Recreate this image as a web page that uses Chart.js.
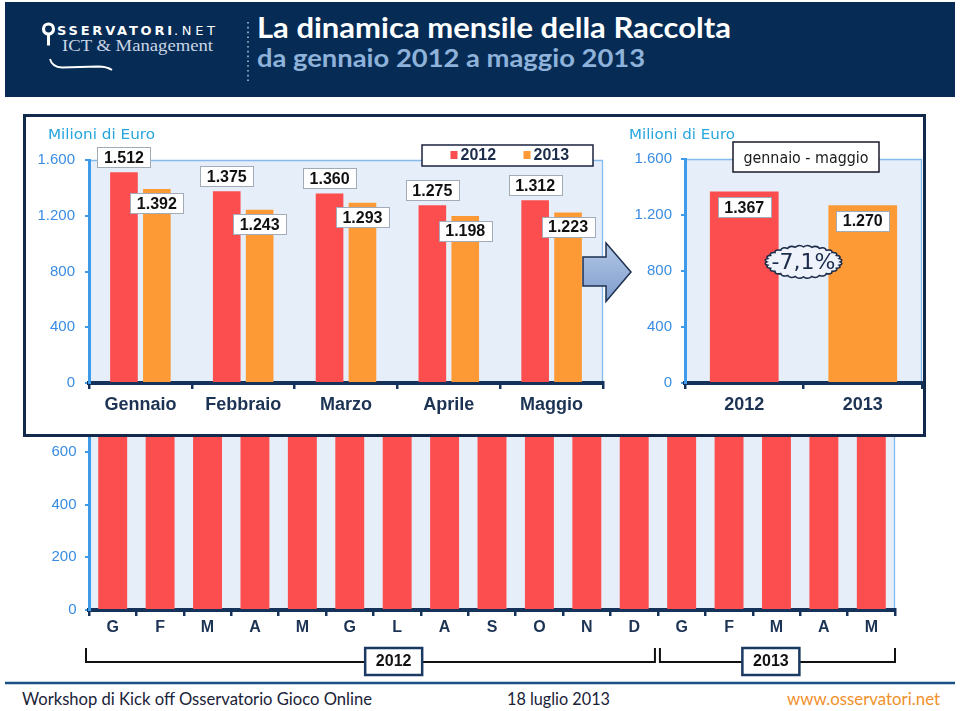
<!DOCTYPE html>
<html><head><meta charset="utf-8">
<script src="https://cdn.jsdelivr.net/npm/chart.js@4.4.1/dist/chart.umd.min.js"></script>
<style>
html,body{margin:0;padding:0;background:#fff;}
#page{position:relative;width:960px;height:711px;overflow:hidden;background:#fff;}
#page canvas,#page svg{position:absolute;left:0;top:0;width:960px;height:711px;}
#popup{position:absolute;left:23px;top:114px;width:897px;height:317px;border:3px solid #13294b;background:#fff;}
</style></head><body><div id="page">
<svg id="deco" width="960" height="711">
  <rect x="5" y="2" width="950" height="95" fill="#062c55"/>
  <circle cx="48.5" cy="29" r="5" fill="none" stroke="#fff" stroke-width="3.2"/>
  <rect x="47" y="33.5" width="3" height="12" fill="#fff"/>
  <text x="57" y="35" font-family="DejaVu Sans" font-weight="bold" font-size="13" fill="#fff" textLength="115" lengthAdjust="spacing">SSERVATORI</text>
  <text x="174" y="35" font-family="DejaVu Sans" font-size="13" fill="#fff" textLength="41" lengthAdjust="spacing">.NET</text>
  <text x="62" y="51" font-family="Liberation Serif" font-size="17" fill="#c9d5e5" textLength="151" lengthAdjust="spacingAndGlyphs">ICT &amp; Management</text>
  <path d="M50 59 Q52 67 62 67.5 L98 66.5 Q107 66.5 112 70" stroke="#fff" stroke-width="1.8" fill="none"/>
  <line x1="248" y1="22" x2="248" y2="81" stroke="#a9bbd2" stroke-width="1.6" stroke-dasharray="1.6 3.2"/>
  <text x="257" y="37.5" font-family="Lato" font-weight="bold" font-size="28" fill="#fff" textLength="474" lengthAdjust="spacingAndGlyphs">La dinamica mensile della Raccolta</text>
  <text x="257" y="67" font-family="Lato" font-weight="bold" font-size="25" fill="#8fb2da" textLength="388" lengthAdjust="spacingAndGlyphs">da gennaio 2012 a maggio 2013</text>
  <line x1="5" y1="683" x2="955" y2="683" stroke="#1b4d87" stroke-width="2.5"/>
  <text x="22" y="705" font-family="Lato" font-size="17" fill="#1a2238" textLength="350" lengthAdjust="spacingAndGlyphs">Workshop di Kick off Osservatorio Gioco Online</text>
  <text x="507" y="705" font-family="Lato" font-size="17" fill="#1a2238" textLength="103" lengthAdjust="spacingAndGlyphs">18 luglio 2013</text>
  <text x="787" y="705" font-family="Lato" font-size="17" fill="#f0902a" textLength="153" lengthAdjust="spacingAndGlyphs">www.osservatori.net</text>
</svg>
<canvas id="cMonthly" width="960" height="711"></canvas>
<div id="popup"></div>
<canvas id="cMonths5" width="960" height="711"></canvas>
<canvas id="cTotal" width="960" height="711"></canvas>
<svg id="overlay" width="960" height="711">
  <defs><linearGradient id="ag" x1="0" y1="0" x2="0" y2="1">
    <stop offset="0" stop-color="#b4c8e6"/><stop offset="1" stop-color="#7d9ccc"/></linearGradient></defs>
  <polygon points="583,257 606,257 606,243 631,272 606,301.5 606,286 583,286" fill="url(#ag)" stroke="#1c2f4f" stroke-width="1.5"/>
  <text x="48" y="139" font-family="DejaVu Sans" font-size="13.5" fill="#27a6de" textLength="107" lengthAdjust="spacingAndGlyphs">Milioni di Euro</text>
  <text x="629" y="139" font-family="DejaVu Sans" font-size="13.5" fill="#27a6de" textLength="106" lengthAdjust="spacingAndGlyphs">Milioni di Euro</text>
  <rect x="733" y="142" width="146" height="30" fill="#fff" stroke="#1a1a2a" stroke-width="1.5"/>
  <text x="806" y="163" text-anchor="middle" font-family="DejaVu Sans" font-size="15" fill="#1a1a1a" textLength="125" lengthAdjust="spacingAndGlyphs">gennaio - maggio</text>
</svg>
</div>
<script>
// ---- data ----
const months5 = ['Gennaio','Febbraio','Marzo','Aprile','Maggio'];
const raccolta2012 = [1512,1375,1360,1275,1312];
const raccolta2013 = [1392,1243,1293,1198,1223];
const periodLabels = ['2012','2013'];
const periodTotals = [1367,1270];
const monthLetters = ['G','F','M','A','M','G','L','A','S','O','N','D','G','F','M','A','M'];
// Jun-Dec 2012 hidden behind the popup in the reference: estimated
const monthlyValues = [1512,1375,1360,1275,1312,1180,1105,1070,1150,1230,1205,1320,1392,1243,1293,1198,1223];
const yearGroups = ['2012','2013'];
const yearGroupSizes = [12,5];

// ---- style ----
const RED = '#fd4e4f', ORANGE = '#fe9a36', PLOT = '#e5eef9', EDGE = '#86b9ec';
const AXISBLUE = '#3d9be9', TICKBLUE = '#3a8ce2', NAVY = '#15325a', LABNAVY = '#1c3354';
const SANS = 'Liberation Sans, Arial, sans-serif';
const fmt = v => String(v).replace(/\B(?=(\d{3})+(?!\d))/g, '.');

function plotBgPlugin(showTop){
  return {id:'plotBg', beforeDraw(chart){
    const {ctx, chartArea:a} = chart;
    ctx.save(); ctx.fillStyle = PLOT; ctx.fillRect(a.left, a.top, a.width, a.height);
    ctx.strokeStyle = EDGE; ctx.lineWidth = 1.3; ctx.beginPath();
    if (showTop){ ctx.moveTo(a.left, a.top + 0.5); ctx.lineTo(a.right - 0.5, a.top + 0.5); }
    else ctx.moveTo(a.right - 0.5, a.top);
    ctx.lineTo(a.right - 0.5, a.bottom); ctx.stroke(); ctx.restore();
  }};
}
function labelBox(ctx, text, cx, cy){
  ctx.font = 'bold 16px ' + SANS;
  const w = Math.round(ctx.measureText(text).width + 13), h = 20;
  const x0 = Math.round(cx - w/2), y0 = Math.round(cy - h/2);
  ctx.fillStyle = '#fff'; ctx.fillRect(x0, y0, w, h);
  ctx.strokeStyle = '#a3abb8'; ctx.lineWidth = 1; ctx.strokeRect(x0 + 0.5, y0 + 0.5, w, h);
  ctx.fillStyle = '#111'; ctx.textAlign = 'center'; ctx.textBaseline = 'middle';
  ctx.fillText(text, cx, cy + 1);
}
function yScale(max, step, width, pad, size){
  return {min:0, max:max, afterFit:s=>{s.width = width;},
    ticks:{stepSize:step, callback:v=>fmt(v), color:TICKBLUE, padding:pad, font:{family:SANS, size:size}},
    grid:{drawOnChartArea:false, drawTicks:true, tickLength:4, color:AXISBLUE, lineWidth:2},
    border:{color:AXISBLUE, width:3}};
}
function xScale(size, pad){
  return {offset:true, afterFit:s=>{s.height = 40;},
    ticks:{color:LABNAVY, padding:pad, font:{family:SANS, size:size, weight:'bold'}},
    grid:{offset:true, drawOnChartArea:false, drawTicks:true, tickLength:6, color:NAVY, lineWidth:2.5},
    border:{color:NAVY, width:4}};
}
const base = {responsive:false, animation:false, events:[],
  plugins:{legend:{display:false}, tooltip:{enabled:false}}};

// ---- bottom monthly chart ----
new Chart(document.getElementById('cMonthly'), {
  type:'bar',
  data:{labels:monthLetters, datasets:[{label:'Raccolta', data:monthlyValues, backgroundColor:RED,
    categoryPercentage:1, barPercentage:0.61}]},
  options:Object.assign({}, base, {
    layout:{padding:{left:0, top:188, right:65, bottom:61}},
    scales:{x:xScale(16, 2), y:yScale(1600, 200, 89, 8.5, 15)}
  }),
  plugins:[plotBgPlugin(true), {id:'years', afterDraw(chart){
    const {ctx, chartArea:a} = chart; const x = chart.scales.x;
    const cw = a.width / monthLetters.length;
    let start = 0; const boxFrac = [0.378, 0.846];
    ctx.save();
    yearGroups.forEach((yr, i) => {
      const l = a.left + start*cw + (i===0 ? -3 : 2);
      const r = a.left + (start + yearGroupSizes[i])*cw + (i===0 ? -3 : 0);
      ctx.strokeStyle = '#111'; ctx.lineWidth = 2; ctx.beginPath();
      ctx.moveTo(l, 648); ctx.lineTo(l, 662); ctx.lineTo(r, 662); ctx.lineTo(r, 648); ctx.stroke();
      const cx = x.getPixelForDecimal(boxFrac[i]);
      ctx.fillStyle = '#fff'; ctx.fillRect(cx - 28.5, 648, 57, 27);
      ctx.strokeStyle = '#1b3a63'; ctx.lineWidth = 2.5; ctx.strokeRect(cx - 28.5, 648, 57, 27);
      ctx.fillStyle = '#111'; ctx.font = 'bold 16px ' + SANS; ctx.textAlign = 'center'; ctx.textBaseline = 'middle';
      ctx.fillText(yr, cx, 662);
      start += yearGroupSizes[i];
    });
    ctx.restore();
  }}]
});

// ---- top-left: months comparison ----
new Chart(document.getElementById('cMonths5'), {
  type:'bar',
  data:{labels:months5, datasets:[
    {label:'2012', data:raccolta2012, backgroundColor:RED, categoryPercentage:0.64, barPercentage:0.84},
    {label:'2013', data:raccolta2013, backgroundColor:ORANGE, categoryPercentage:0.64, barPercentage:0.84}]},
  options:Object.assign({}, base, {
    layout:{padding:{left:0, top:160, right:357, bottom:288}},
    scales:{x:xScale(18, 5), y:yScale(1600, 400, 89, 10, 15)}
  }),
  plugins:[plotBgPlugin(true), {id:'labels', afterDraw(chart){
    const ctx = chart.ctx; ctx.save();
    chart.data.datasets.forEach((ds, di) => {
      chart.getDatasetMeta(di).data.forEach((bar, j) => {
        labelBox(ctx, fmt(ds.data[j]), bar.x, di === 0 ? bar.y - 15 : bar.y + 14.5);
      });
    });
    // legend
    ctx.fillStyle = '#fff'; ctx.fillRect(422, 145, 171, 21);
    ctx.strokeStyle = '#1a2340'; ctx.lineWidth = 1.5; ctx.strokeRect(422, 145, 171, 21);
    const lx = [450.5, 523.5];
    chart.data.datasets.forEach((ds, di) => {
      ctx.fillStyle = ds.backgroundColor; ctx.fillRect(lx[di], 151, 7, 8);
      ctx.fillStyle = '#1d2c4a'; ctx.font = 'bold 16px ' + SANS; ctx.textAlign = 'left'; ctx.textBaseline = 'middle';
      ctx.fillText(ds.label, lx[di] + 10, 156);
    });
    ctx.restore();
  }}]
});

// ---- top-right: period totals ----
new Chart(document.getElementById('cTotal'), {
  type:'bar',
  data:{labels:periodLabels, datasets:[{label:'gennaio - maggio', data:periodTotals,
    backgroundColor:[RED, ORANGE], categoryPercentage:0.58, barPercentage:1}]},
  options:Object.assign({}, base, {
    layout:{padding:{left:600, top:159, right:38, bottom:288}},
    scales:{x:xScale(18, 5), y:yScale(1600, 400, 85, 9, 15)}
  }),
  plugins:[plotBgPlugin(true), {id:'labels', afterDraw(chart){
    const ctx = chart.ctx; const bars = chart.getDatasetMeta(0).data; const d = chart.data.datasets[0].data;
    ctx.save();
    bars.forEach((bar, j) => labelBox(ctx, fmt(d[j]), bar.x, bar.y + 15.5));
    const cx = (bars[0].x + bars[1].x) / 2, cy = chart.scales.y.getPixelForValue(865);
    const rx = 36.5, ry = 15, n = 28;
    ctx.beginPath();
    for (let i = 0; i < n; i++){
      const t0 = i/n*2*Math.PI, t1 = (i+1)/n*2*Math.PI, tm = (t0+t1)/2;
      const p0 = [cx + rx*Math.cos(t0), cy + ry*Math.sin(t0)];
      const p1 = [cx + rx*Math.cos(t1), cy + ry*Math.sin(t1)];
      const c = [cx + rx*1.12*Math.cos(tm), cy + ry*1.2*Math.sin(tm)];
      if (i === 0) ctx.moveTo(p0[0], p0[1]);
      ctx.quadraticCurveTo(c[0], c[1], p1[0], p1[1]);
    }
    ctx.closePath(); ctx.fillStyle = '#eef3fb'; ctx.fill();
    ctx.strokeStyle = '#1b2a48'; ctx.lineWidth = 1.6; ctx.stroke();
    const pct = ((d[1]/d[0] - 1)*100).toFixed(1).replace('.', ',') + '%';
    ctx.fillStyle = '#1b2b4b'; ctx.font = '22px DejaVu Sans, sans-serif'; ctx.textAlign = 'center'; ctx.textBaseline = 'middle';
    ctx.fillText(pct, cx, cy + 1);
    ctx.restore();
  }}]
});
</script>
</body></html>
